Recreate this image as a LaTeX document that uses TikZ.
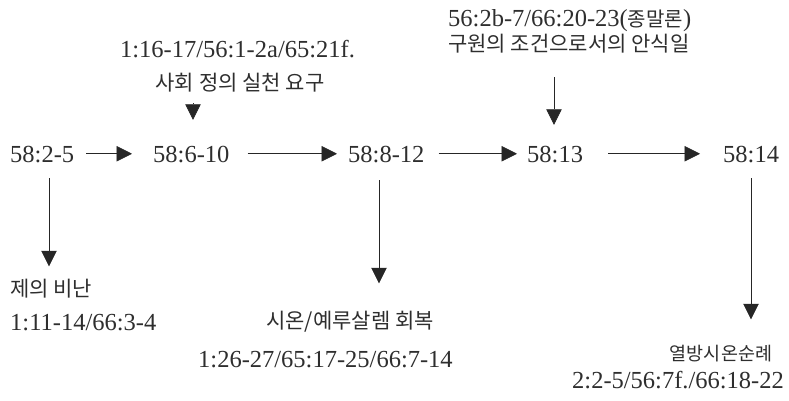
\documentclass[tikz,border=0pt]{standalone}
\usepackage{fontspec}
\setmainfont{Liberation Serif}
\newfontfamily\kr{Noto Sans CJK KR}[FakeBold=0]
\usetikzlibrary{arrows.meta}
\tikzset{
  lat/.style={inner sep=0pt, font=\fontsize{24.5}{28}\selectfont, text height=16.5pt, text depth=0pt, text=black!82},
  kor/.style={inner sep=0pt, font=\fontsize{21}{24}\selectfont\kr, text height=16.5pt, text depth=2pt, text=black!82},
  arr/.style={draw=black!85, line width=0.7pt, -{Triangle[length=15.5pt,width=15.5pt]}}
}
\begin{document}
\begin{tikzpicture}[x=1pt,y=-1pt]
\useasboundingbox (0,0) rectangle (789,400);
% main row
\node[lat, anchor=base west] (n1) at (10,162) {58:2-5};
\node[lat, anchor=base west] (n2) at (153,162) {58:6-10};
\node[lat, anchor=base west] (n3) at (348,162) {58:8-12};
\node[lat, anchor=base west] (n4) at (527,162) {58:13};
\node[lat, anchor=base west] (n5) at (723,162) {58:14};
% top texts
\node[lat, anchor=base] (t1) at (237.5,57) {1:16-17/56:1-2a/65:21f.};
\node[kor, anchor=base] (t2) at (240,90) {사회 정의 실천 요구};
\node[lat, anchor=base west] (t3) at (448,26) {56:2b-7/66:20-23({\fontsize{20}{24}\selectfont\kr 종말론})};
\node[kor, anchor=base west] (t4) at (448,51) {구원의 조건으로서의 안식일};
% bottom texts
\node[kor, anchor=base west] (k1) at (10,296) {제의 비난};
\node[lat, anchor=base west] (k1b) at (10,330) {1:11-14/66:3-4};
\node[kor, anchor=base] (k2) at (350,328) {시온/예루살렘 회복};
\node[lat, anchor=base west] (k2b) at (198,367) {1:26-27/65:17-25/66:7-14};
\node[kor, anchor=base, font=\fontsize{18.5}{22}\selectfont\kr] (k3) at (721,360) {열방시온순례};
\node[lat, anchor=base west] (k3b) at (572,388) {2:2-5/56:7f./66:18-22};
% helper x-positions
\coordinate (x1) at (49,0);
\coordinate (x2) at (193,0);
\coordinate (x3) at (379,0);
\coordinate (x4) at (554,0);
\coordinate (x5) at (751,0);
% horizontal arrows
\draw[arr, shorten <=12pt, shorten >=21pt] (n1.east) -- (n2.west);
\draw[arr, shorten <=18pt, shorten >=11pt] (n2.east) -- (n3.west);
\draw[arr, shorten <=14pt, shorten >=10pt] (n3.east) -- (n4.west);
\draw[arr, shorten <=25pt, shorten >=23pt] (n4.east) -- (n5.west);
% vertical arrows
\draw[arr, shorten <=11pt, shorten >=25.5pt] (x2 |- t2.south) -- (x2 |- n2.north);
\draw[arr, shorten <=24pt, shorten >=20.5pt] (x4 |- t4.south) -- (x4 |- n4.north);
\draw[arr, shorten <=16pt, shorten >=13pt] (x1 |- n1.south) -- (x1 |- k1.north);
\draw[arr, shorten <=18pt, shorten >=28pt] (x3 |- n3.south) -- (x3 |- k2.north);
\draw[arr, shorten <=16pt, shorten >=24pt] (x5 |- n5.south) -- (x5 |- k3.north);
\end{tikzpicture}
\end{document}
